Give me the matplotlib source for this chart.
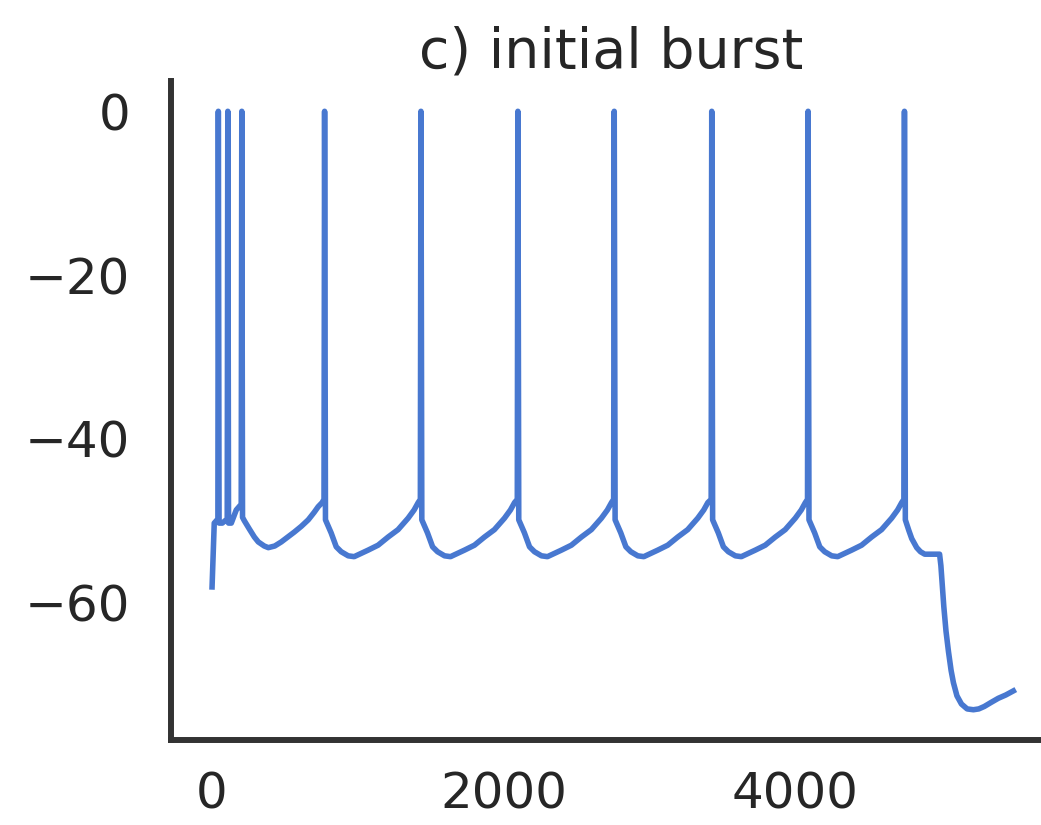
import matplotlib
matplotlib.use("Agg")
import matplotlib.pyplot as plt

# membrane trace (time in ms, voltage in mV)
time_ms = [
    # onset and initial burst
    0, 15, 40, 43, 48, 70, 104, 108, 113, 132, 166, 200, 204,
    209, 221, 255, 290, 317, 358, 386, 430, 475, 520, 564, 612, 660, 700, 728, 755, 768, 772,
    # tonic firing
    778, 817, 852, 886, 934, 975, 1071, 1139, 1208, 1276, 1345, 1386, 1414, 1429, 1433,
    1439, 1478, 1513, 1547, 1595, 1636, 1732, 1800, 1869, 1937, 2006, 2047, 2075, 2094, 2098,
    2104, 2143, 2178, 2212, 2260, 2301, 2397, 2465, 2534, 2602, 2671, 2712, 2740, 2755, 2759,
    2765, 2804, 2839, 2873, 2921, 2962, 3058, 3126, 3195, 3263, 3332, 3373, 3401, 3424, 3428,
    3434, 3473, 3508, 3542, 3590, 3631, 3727, 3795, 3864, 3932, 4001, 4042, 4070, 4085, 4089,
    4095, 4134, 4169, 4203, 4251, 4292, 4388, 4456, 4525, 4593, 4662, 4703, 4731, 4746, 4750,
    # end of stimulus
    4756, 4780, 4800, 4834, 4860, 4889, 4991, 5000, 5010, 5020, 5035, 5052, 5070, 5086,
    5110, 5141, 5180, 5223, 5260, 5298, 5345, 5394, 5445, 5497,
]
vm_mV = [
    -58.1, -50.3, -49.8, 0.0, -50.3, -50.3, -49.8, 0.0, -50.3, -50.3, -48.7, -48.0, 0.0,
    -49.6, -50.0, -51.0, -52.0, -52.6, -53.1, -53.3, -53.1, -52.6, -52.0, -51.4, -50.7, -49.9, -49.0, -48.3, -47.8, -47.4, 0.0,
    -49.9, -51.5, -53.2, -53.8, -54.3, -54.4, -53.6, -53.0, -52.0, -51.1, -49.7, -48.7, -47.8, -47.4, 0.0,
    -49.9, -51.5, -53.2, -53.8, -54.3, -54.4, -53.6, -53.0, -52.0, -51.1, -49.7, -48.7, -47.8, -47.4, 0.0,
    -49.9, -51.5, -53.2, -53.8, -54.3, -54.4, -53.6, -53.0, -52.0, -51.1, -49.7, -48.7, -47.8, -47.4, 0.0,
    -49.9, -51.5, -53.2, -53.8, -54.3, -54.4, -53.6, -53.0, -52.0, -51.1, -49.7, -48.7, -47.8, -47.4, 0.0,
    -49.9, -51.5, -53.2, -53.8, -54.3, -54.4, -53.6, -53.0, -52.0, -51.1, -49.7, -48.7, -47.8, -47.4, 0.0,
    -49.9, -51.5, -53.2, -53.8, -54.3, -54.4, -53.6, -53.0, -52.0, -51.1, -49.7, -48.7, -47.8, -47.4, 0.0,
    -49.9, -51.2, -52.2, -53.3, -53.8, -54.1, -54.1, -55.5, -58.0, -60.5, -63.5, -66.0, -68.3, -69.8,
    -71.4, -72.4, -73.0, -73.1, -73.0, -72.7, -72.2, -71.7, -71.3, -70.8,
]

x_ticks = [0, 2000, 4000]
y_ticks = [0, -20, -40, -60]

fig = plt.figure(figsize=(10.41, 8.25), dpi=100)
ax = fig.add_axes([0.1638, 0.103, 0.8473, 0.7988])

ax.plot(time_ms, vm_mV, color="#4878d0", lw=4.0, solid_joinstyle="round")

ax.set_xlim(-285, 5766)
ax.set_ylim(-76.8, 3.7)
ax.set_xticks(x_ticks)
ax.set_yticks(y_ticks)

for side in ["top", "right"]:
    ax.spines[side].set_visible(False)
for side in ["left", "bottom"]:
    ax.spines[side].set_color("#333333")
    ax.spines[side].set_linewidth(4.3)

ax.tick_params(axis="both", length=0, labelsize=36, labelcolor="#262626")
ax.tick_params(axis="y", pad=29)
ax.tick_params(axis="x", pad=22)

ax.set_title("c) initial burst", fontsize=40, color="#262626", pad=10)

fig.savefig("out.png", dpi=100)
